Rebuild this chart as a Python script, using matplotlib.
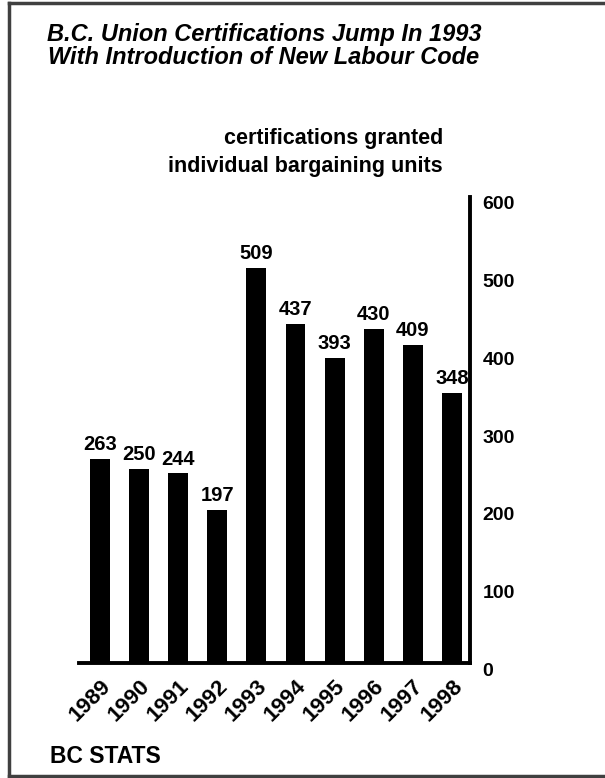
import matplotlib
matplotlib.use('Agg')
import matplotlib.pyplot as plt
import matplotlib.transforms as mtransforms
from matplotlib.lines import Line2D

plt.rcParams['font.family'] = ['Liberation Sans', 'DejaVu Sans']

# Данные
years = ['1989', '1990', '1991', '1992', '1993', '1994', '1995', '1996', '1997', '1998']
certifications = [263, 250, 244, 197, 509, 437, 393, 430, 409, 348]
y_ticks = [0, 100, 200, 300, 400, 500, 600]

fig = plt.figure(figsize=(6.05, 7.78), dpi=100)
ax = fig.add_axes([0.1306, 0.1478, 0.646, 0.599])

x = range(len(years))
bars = ax.bar(x, certifications, width=0.51, color='black')

# Подписи значений над столбцами
for xi, v in zip(x, certifications):
    ax.annotate(str(v), (xi, v), xytext=(0, 3.5), textcoords='offset points',
                ha='center', va='bottom', fontsize=14.5, fontweight='bold')

ax.set_xlim(-0.54, 9.46)
ax.set_ylim(0, 600)

# Ось справа
ax.yaxis.tick_right()
ax.set_yticks(y_ticks)
ax.set_yticklabels([str(t) for t in y_ticks], fontsize=14, fontweight='bold')
ax.tick_params(axis='y', length=0, pad=9)
offset = mtransforms.ScaledTranslation(0, -0.06, fig.dpi_scale_trans)
for lab in ax.get_yticklabels():
    lab.set_transform(lab.get_transform() + offset)

ax.set_xticks(list(x))
ax.set_xticklabels(years, rotation=45, ha='right', va='top',
                   rotation_mode='anchor', fontsize=16, fontweight='bold')
ax.tick_params(axis='x', length=0, pad=9)

for side in ['left', 'top']:
    ax.spines[side].set_visible(False)
for side in ['right', 'bottom']:
    ax.spines[side].set_linewidth(2.8)

# Заголовки
fig.text(0.436, 0.956, 'B.C. Union Certifications Jump In 1993', ha='center', va='center',
         fontsize=17, fontweight='bold', style='italic')
fig.text(0.436, 0.926, 'With Introduction of New Labour Code', ha='center', va='center',
         fontsize=17, fontweight='bold', style='italic')
fig.text(0.732, 0.822, 'certifications granted', ha='right', va='center',
         fontsize=15.5, fontweight='bold')
fig.text(0.732, 0.786, 'individual bargaining units', ha='right', va='center',
         fontsize=15.5, fontweight='bold')
fig.text(0.083, 0.028, 'BC STATS', ha='left', va='center',
         fontsize=16.5, fontweight='bold')

# Рамка
frame_kw = dict(color='#404040', linewidth=2.5, transform=fig.transFigure)
fig.add_artist(Line2D([0.015, 1.0], [0.996, 0.996], **frame_kw))
fig.add_artist(Line2D([0.015, 0.015], [0.003, 0.996], **frame_kw))
fig.add_artist(Line2D([0.015, 1.0], [0.003, 0.003], **frame_kw))

fig.savefig('out.png', dpi=100)
